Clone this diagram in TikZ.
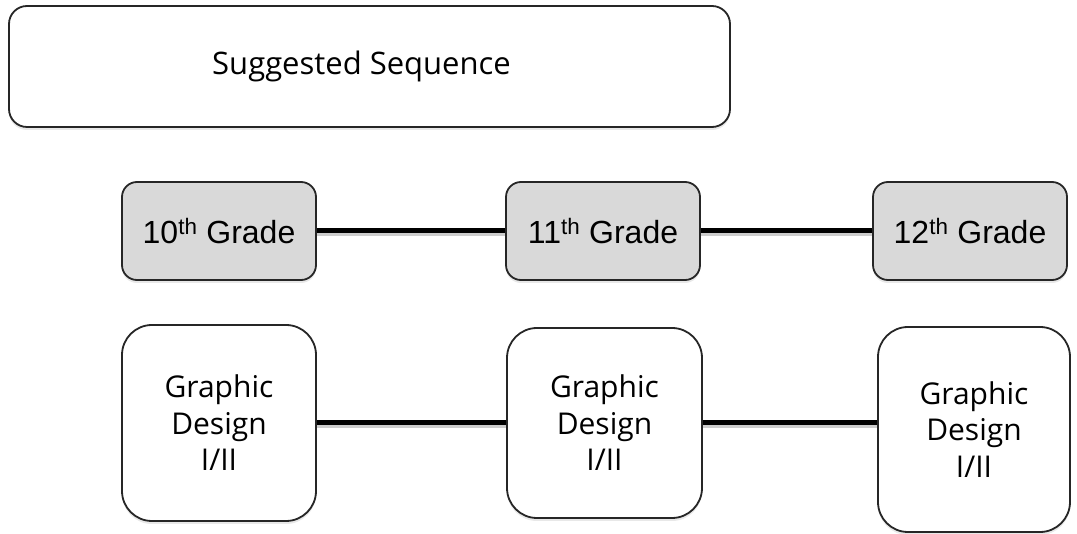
\documentclass[tikz,border=0pt]{standalone}
\usepackage{fontspec}
\setmainfont{Open Sans}
\newfontfamily\gradefont{Liberation Sans}
\usetikzlibrary{shadows}
\tikzset{
  base/.style={draw=black!85, line width=1.8pt, rounded corners=#1, inner sep=0pt,
    drop shadow={opacity=0.18, shadow xshift=0pt, shadow yshift=-3pt}},
  topbox/.style={base=18pt, fill=white, font=\fontsize{31}{36}\selectfont},
  gradebox/.style={base=15pt, fill=black!15, font=\gradefont\fontsize{32}{36}\selectfont},
  coursebox/.style={base=30pt, fill=white, align=center, font=\fontsize{30}{36.5}\selectfont},
  link/.style={line width=5pt, black},
  linkshadow/.style={line width=5pt, black, opacity=0.2}
}
\begin{document}
\begin{tikzpicture}[x=1pt,y=-1pt]
\useasboundingbox (0,0) rectangle (1077,534);
\node[topbox, minimum width=721pt, minimum height=121pt] (top) at (369.5,66.5) {Suggested Sequence\hspace*{16pt}};
\node[gradebox, minimum width=194pt, minimum height=98pt] (g10) at (219,231) {10\textsuperscript{th} Grade};
\node[gradebox, minimum width=194pt, minimum height=98pt] (g11) at (603,231) {11\textsuperscript{th} Grade};
\node[gradebox, minimum width=194pt, minimum height=98pt] (g12) at (970,231) {12\textsuperscript{th} Grade};
\node[coursebox, minimum width=194pt, minimum height=196pt] (c1) at (219,423) {Graphic\\Design\\I/II};
\node[coursebox, minimum width=195pt, minimum height=190pt] (c2) at (604.5,423) {Graphic\\Design\\I/II};
\node[coursebox, minimum width=192pt, minimum height=205pt] (c3) at (974,429.5) {Graphic\\Design\\I/II};
\begin{scope}[transform canvas={yshift=-3pt}]
\draw[linkshadow] (g10.east) -- (g11.west);
\draw[linkshadow] (g11.east) -- (g12.west);
\draw[linkshadow] (c1.east) -- (c2.west);
\draw[linkshadow] (c2.east) -- (c2.east -| c3.west);
\end{scope}
\draw[link] (g10.east) -- (g11.west);
\draw[link] (g11.east) -- (g12.west);
\draw[link] (c1.east) -- (c2.west);
\draw[link] (c2.east) -- (c2.east -| c3.west);
\end{tikzpicture}
\end{document}
